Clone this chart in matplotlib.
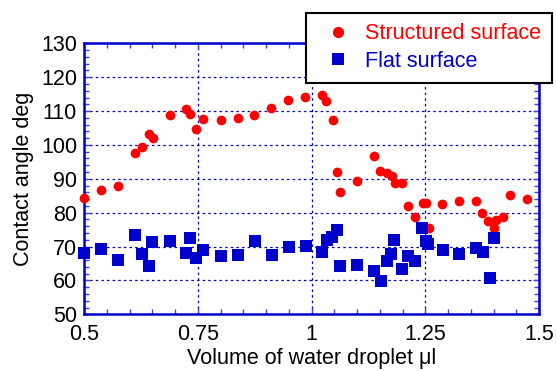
import matplotlib.pyplot as plt
from matplotlib.ticker import MultipleLocator

plt.rcParams['font.family'] = ['Liberation Sans', 'DejaVu Sans']

# structured surface (red circles)
vol_structured = [0.500, 0.537, 0.575, 0.613, 0.627, 0.642, 0.651, 0.688, 0.724,
                  0.733, 0.747, 0.762, 0.800, 0.838, 0.874, 0.912, 0.949, 0.986,
                  1.023, 1.032, 1.047, 1.055, 1.062, 1.099, 1.137, 1.150, 1.167,
                  1.176, 1.184, 1.198, 1.211, 1.227, 1.244, 1.252, 1.259, 1.287,
                  1.325, 1.362, 1.374, 1.389, 1.400, 1.405, 1.420, 1.436, 1.474]
angle_structured = [84.4, 86.6, 88.0, 97.6, 99.5, 103.1, 102.0, 108.8, 110.7,
                    109.1, 104.7, 107.8, 107.3, 108.0, 108.9, 110.9, 113.3, 114.2,
                    114.8, 113.1, 107.3, 92.1, 86.1, 89.4, 96.8, 92.3, 91.8,
                    90.7, 88.7, 88.7, 82.1, 78.7, 83.0, 83.0, 75.4, 82.5,
                    83.5, 83.4, 79.9, 77.6, 75.6, 77.8, 78.7, 85.2, 83.9]

# flat surface (blue squares)
vol_flat = [0.500, 0.538, 0.575, 0.613, 0.628, 0.643, 0.650, 0.688, 0.725, 0.734,
            0.747, 0.762, 0.800, 0.838, 0.876, 0.913, 0.950, 0.987, 1.024, 1.033,
            1.046, 1.055, 1.063, 1.099, 1.138, 1.153, 1.167, 1.175, 1.182, 1.198,
            1.213, 1.227, 1.242, 1.251, 1.257, 1.288, 1.325, 1.362, 1.376, 1.392,
            1.400]
angle_flat = [68.2, 69.4, 66.1, 73.5, 67.8, 64.4, 71.3, 71.7, 68.2, 72.5,
              66.6, 68.9, 67.2, 67.5, 71.6, 67.5, 69.8, 70.2, 68.4, 71.8,
              72.7, 74.9, 64.4, 64.5, 62.7, 59.9, 65.8, 67.8, 71.8, 63.5,
              67.1, 65.8, 75.6, 71.7, 70.8, 68.9, 67.8, 69.7, 68.4, 60.7,
              72.4]

blue = '#0000CC'
fs = 15.5

fig = plt.figure(figsize=(5.56, 3.71), dpi=100)
ax = fig.add_axes([84 / 556, 1 - 314.3 / 371, 455 / 556, 271 / 371])

ax.plot(vol_structured, angle_structured, 'o', color='#FF0000', markersize=7,
        markeredgewidth=0, label='Structured surface', clip_on=False, zorder=3)
ax.plot(vol_flat, angle_flat, 's', color=blue, markersize=8,
        markeredgewidth=0, label='Flat surface', clip_on=False, zorder=4)

ax.set_xlim(0.5, 1.5)
ax.set_ylim(50, 130)
ax.xaxis.set_major_locator(MultipleLocator(0.25))
ax.xaxis.set_minor_locator(MultipleLocator(0.05))
ax.yaxis.set_major_locator(MultipleLocator(10))
ax.yaxis.set_minor_locator(MultipleLocator(2))
ax.set_xticks([0.5, 0.75, 1.0, 1.25, 1.5])
ax.set_xticklabels(['0.5', '0.75', '1', '1.25', '1.5'])

ax.grid(True, which='major', color=blue, linestyle=(0, (2, 2.5)), linewidth=0.9)
ax.set_axisbelow(True)

for sp in ax.spines.values():
    sp.set_color(blue)
    sp.set_linewidth(1.8)
ax.tick_params(which='both', direction='in', top=True, right=True,
               color='#4444DD', labelsize=fs, labelcolor='black')
ax.tick_params(which='major', length=4, width=1)
ax.tick_params(which='minor', length=3.5, width=1)
ax.tick_params(axis='x', which='major', pad=7)
ax.tick_params(axis='y', which='major', pad=5)

ax.set_xlabel('Volume of water droplet \u03bcl', fontsize=fs, labelpad=2)
ax.set_ylabel('Contact angle deg', fontsize=fs, labelpad=5)

leg = ax.legend(loc='upper right', bbox_to_anchor=(552 / 556, 1 - 12.7 / 371),
                bbox_transform=fig.transFigure, borderaxespad=0, fancybox=False,
                framealpha=1, edgecolor='black', fontsize=fs, handletextpad=0.25,
                borderpad=0.5, labelspacing=0.3, handlelength=2.0, markerscale=1.15)
leg.get_frame().set_linewidth(1.5)
leg.set_zorder(10)
for txt, c in zip(leg.get_texts(), ['#FF0000', blue]):
    txt.set_color(c)

fig.savefig('out.png', dpi=100)
